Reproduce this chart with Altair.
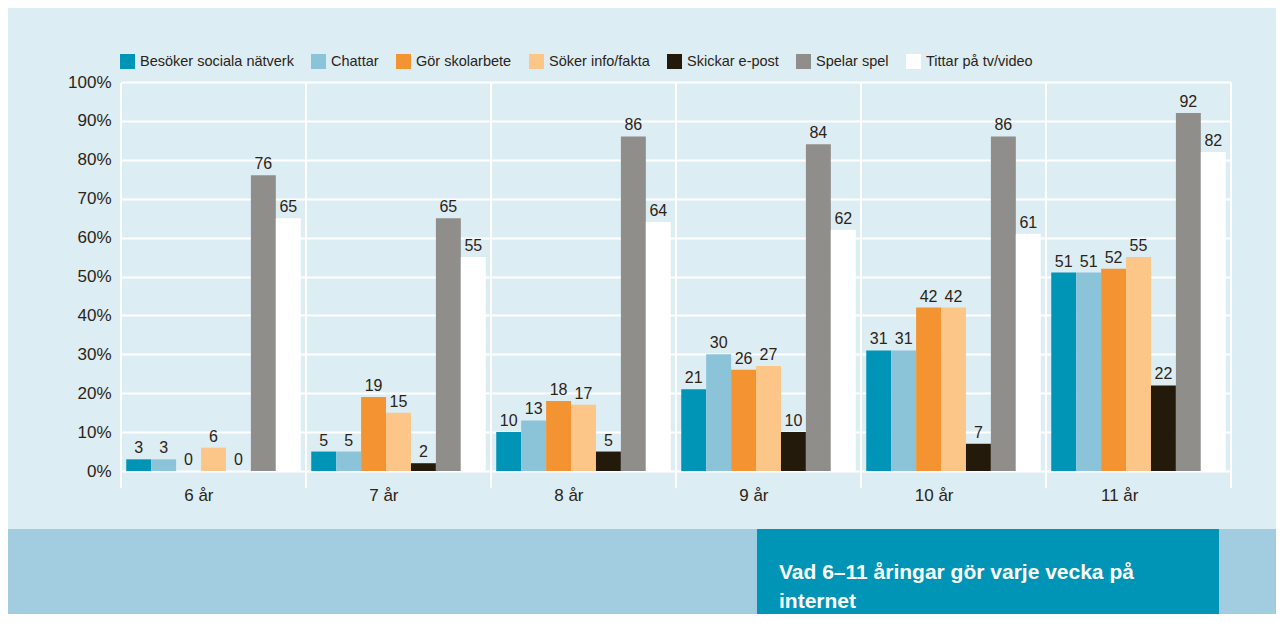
import altair as alt
import pandas as pd

groups = ["6 år", "7 år", "8 år", "9 år", "10 år", "11 år"]
series = ["Besöker sociala nätverk", "Chattar", "Gör skolarbete", "Söker info/fakta",
          "Skickar e-post", "Spelar spel", "Tittar på tv/video"]
colors = ["#0095b6", "#8bc3d9", "#f49331", "#fcc688", "#231a0b", "#908e8a", "#ffffff"]
y_ticks = [0, 10, 20, 30, 40, 50, 60, 70, 80, 90, 100]

v_sociala = [3, 5, 10, 21, 31, 51]
v_chattar = [3, 5, 13, 30, 31, 51]
v_skola = [0, 19, 18, 26, 42, 52]
v_info = [6, 15, 17, 27, 42, 55]
v_epost = [0, 2, 5, 10, 7, 22]
v_spel = [76, 65, 86, 84, 86, 92]
v_tv = [65, 55, 64, 62, 61, 82]

caption = ["Vad 6–11 åringar gör varje vecka på", "internet"]

all_vals = [v_sociala, v_chattar, v_skola, v_info, v_epost, v_spel, v_tv]
rows = []
for s, vals in zip(series, all_vals):
    for g, v in zip(groups, vals):
        rows.append({"grupp": g, "serie": s, "varde": v})
df = pd.DataFrame(rows)
gdf = pd.DataFrame({"grupp": groups})
one = pd.DataFrame({"k": [0]})

FONT = "Liberation Sans"
DARK = "#2b2416"
PW, PH = 1117, 389

x_enc = alt.X("grupp:N", sort=groups,
              scale=alt.Scale(range=[0, 1110], paddingInner=0, paddingOuter=0),
              axis=alt.Axis(title=None, ticks=False, domain=False, grid=False,
                            labelFontSize=17, labelColor=DARK, labelFont=FONT,
                            labelPadding=29, labelBaseline="alphabetic", labelAngle=0))
xo_enc = alt.XOffset("serie:N", sort=series,
                     scale=alt.Scale(paddingOuter=0.21, paddingInner=0))
y_enc = alt.Y("varde:Q", scale=alt.Scale(domain=[0, 100]),
              axis=alt.Axis(title=None, values=y_ticks, tickCount=11,
                            labelExpr="datum.value + '%'", domain=False, ticks=False,
                            grid=True, gridColor="#ffffff", gridWidth=2, gridOpacity=1,
                            labelFontSize=17, labelColor=DARK, labelFont=FONT,
                            labelPadding=10, labelOverlap=False))

base = alt.Chart(df)

bars = base.mark_bar(strokeWidth=0).encode(
    x=x_enc, xOffset=xo_enc, y=y_enc,
    color=alt.Color("serie:N", sort=series,
                    scale=alt.Scale(domain=series, range=colors),
                    legend=alt.Legend(title=None, orient="none", direction="horizontal",
                                      columns=7, legendX=-1, legendY=-28,
                                      symbolType="square", symbolSize=225,
                                      symbolStrokeWidth=0, labelFontSize=14.5,
                                      labelFont=FONT, labelColor=DARK, labelOffset=5,
                                      columnPadding=17, labelLimit=300)),
)

labels = base.mark_text(font=FONT, fontSize=16, color=DARK, baseline="alphabetic",
                        dy=-6).encode(
    x=x_enc, xOffset=xo_enc, y=y_enc, text="varde:Q")

sep_start = alt.Chart(gdf).mark_rule(color="#ffffff", strokeWidth=2).encode(
    x=alt.X("grupp:N", sort=groups, bandPosition=0),
    y=alt.value(1), y2=alt.value(PH + 17))
sep_end = alt.Chart(gdf).mark_rule(color="#ffffff", strokeWidth=2).encode(
    x=alt.X("grupp:N", sort=groups, bandPosition=1),
    y=alt.value(1), y2=alt.value(PH + 17))

band = alt.Chart(one).mark_rect(color="#a2cde0").encode(
    x=alt.value(-113), x2=alt.value(1160), y=alt.value(447), y2=alt.value(540))
box = alt.Chart(one).mark_rect(color="#0094b6").encode(
    x=alt.value(636), x2=alt.value(1098), y=alt.value(447), y2=alt.value(540))
cap = alt.Chart(one).mark_text(align="left", baseline="alphabetic", fontSize=21,
                               fontWeight="bold", color="#ffffff", font=FONT,
                               lineHeight=29).encode(
    x=alt.value(658), y=alt.value(497), text=alt.value(caption))

chart = alt.layer(band, box, cap, sep_start, sep_end, bars, labels).properties(
    width=PW, height=PH,
    padding={"left": 113, "top": 74, "right": 38, "bottom": 143},
    autosize="none",
).configure(background="#ddedf4").configure_view(stroke=None)

chart.save("out.html", embed_options={"renderer": "svg", "actions": False})
